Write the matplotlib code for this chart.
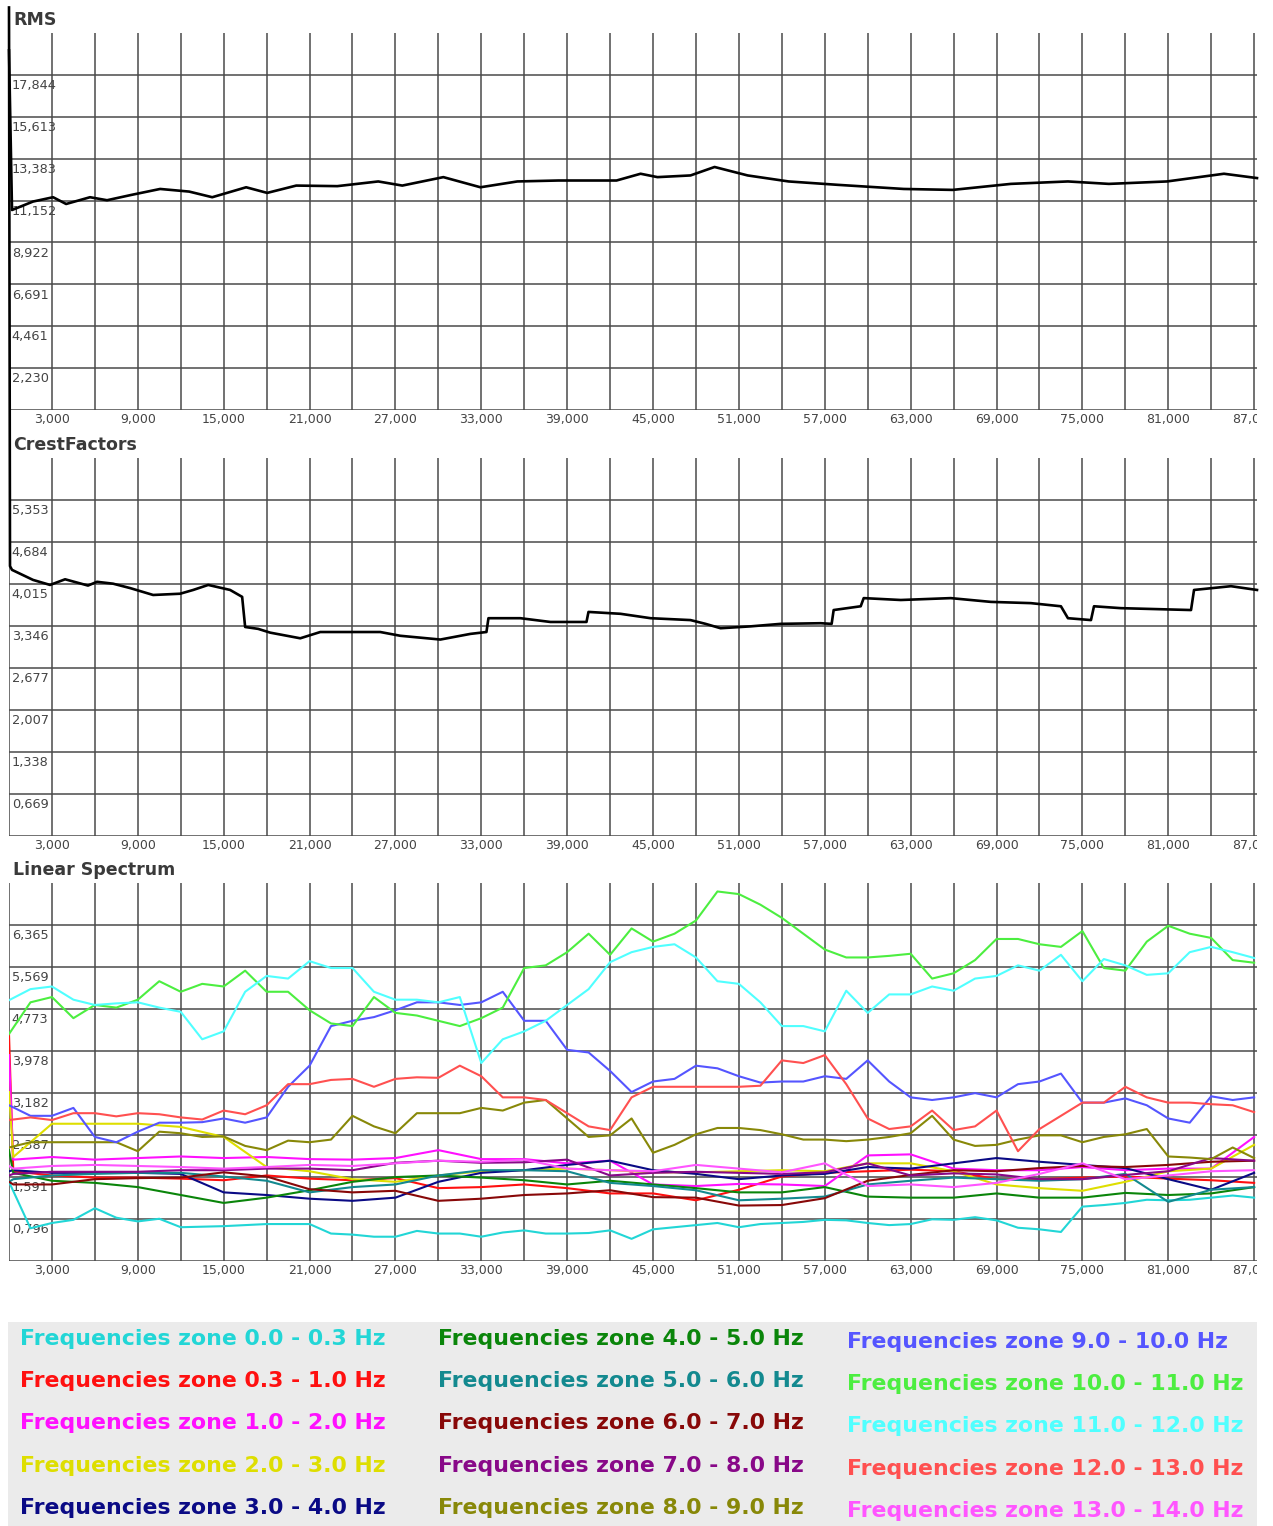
import numpy as np
import matplotlib
matplotlib.use("Agg")
import matplotlib.pyplot as plt
from matplotlib.patches import Rectangle
from matplotlib.transforms import ScaledTranslation

W, H = 1273, 1526

# ---------------- data ----------------
RMS_X = [0, 210, 1680, 3080, 3990, 5660, 6850, 8530, 10560, 12590, 14200, 16570,
         18040, 20070, 22940, 25800, 27480, 30350, 32940, 35520, 38390, 42450,
         44130, 45310, 47620, 49300, 51610, 54470, 57900, 62520, 65940, 70000,
         73990, 76850, 80910, 84890, 87200]
RMS_Y = [19150, 10650, 11100, 11330, 10970, 11330, 11170, 11450, 11770, 11630, 11330, 11860,
         11560, 11950, 11920, 12170, 11950, 12400, 11860, 12170, 12220, 12220,
         12580, 12400, 12490, 12940, 12490, 12170, 11990, 11770, 11720, 12040,
         12170, 12040, 12170, 12580, 12350]

CREST_X = [0, 70, 210, 1680, 2870, 3920, 5520, 6150, 7270, 8460, 10070, 11960, 12870,
           13920, 15450, 16290, 16500, 17410, 18250, 20350, 21750, 23500, 25940,
           27340, 30140, 32240, 33360, 33500, 35730, 37830, 40350, 40490, 42730,
           44830, 47620, 48670, 49720, 51820, 53920, 56710, 57480, 57620, 59510,
           59720, 62310, 65800, 68600, 71400, 73500, 73990, 75600, 75810, 77690,
           82590, 82800, 85380, 87200]
CREST_Y = [13.2, 4.3, 4.24, 4.08, 4.0, 4.09, 3.99, 4.05, 4.02, 3.95, 3.84, 3.86, 3.92,
           4.0, 3.92, 3.81, 3.33, 3.3, 3.24, 3.15, 3.25, 3.25, 3.25,
           3.19, 3.13, 3.22, 3.25, 3.47, 3.47, 3.41, 3.41, 3.57, 3.54,
           3.47, 3.44, 3.38, 3.31, 3.34, 3.38, 3.39, 3.38, 3.6, 3.66,
           3.79, 3.76, 3.79, 3.73, 3.71, 3.66, 3.47, 3.44, 3.66, 3.63,
           3.6, 3.92, 3.98, 3.92]

# spectrum: prominent series sampled every 1500, cluster series every 3000
X_FINE = list(range(0, 87001, 1500))
X_COARSE = [0, 300] + list(range(3000, 87001, 3000))

TURQ_0 = [1.5, 0.62, 0.72, 0.78, 1.0, 0.82, 0.75, 0.8, 0.64, 0.65,
          0.66, 0.68, 0.7, 0.7, 0.7, 0.52, 0.5, 0.46, 0.46, 0.57,
          0.52, 0.52, 0.46, 0.54, 0.58, 0.52, 0.52, 0.53, 0.58, 0.42,
          0.6, 0.64, 0.68, 0.72, 0.64, 0.7, 0.72, 0.74, 0.78, 0.77,
          0.72, 0.68, 0.7, 0.79, 0.78, 0.83, 0.77, 0.63, 0.6, 0.55,
          1.03, 1.06, 1.1, 1.16, 1.15, 1.16, 1.2, 1.24, 1.2]
RED_03 = [4.3, 1.7, 1.62, 1.58, 1.58, 1.56, 1.53, 1.62, 1.56, 1.53, 1.57, 1.38, 1.4,
          1.45, 1.38, 1.28, 1.28, 1.15, 1.35, 1.6, 1.67, 1.7, 1.73, 1.7, 1.55, 1.55,
          1.58, 1.6, 1.56, 1.53, 1.48]
MAGENTA_1 = [3.9, 1.92, 1.97, 1.92, 1.95, 1.98, 1.95, 1.97, 1.93, 1.92, 1.95, 2.1, 1.93,
             1.93, 1.85, 1.9, 1.45, 1.42, 1.46, 1.45, 1.42, 2.0, 2.02, 1.75, 1.72, 1.72,
             1.78, 1.72, 1.75, 1.75, 2.35]
YELLOW_2 = [3.2, 1.97, 2.6, 2.6, 2.6, 2.54, 2.35, 1.78, 1.7, 1.55, 1.5, 1.62, 1.7, 1.72,
            1.75, 1.72, 1.68, 1.68, 1.7, 1.72, 1.7, 1.85, 1.85, 1.7, 1.45, 1.38, 1.33,
            1.5, 1.7, 1.75, 2.2]
NAVY_3 = [1.7, 1.72, 1.67, 1.67, 1.67, 1.65, 1.3, 1.25, 1.18, 1.14, 1.2, 1.5, 1.67, 1.72,
          1.82, 1.9, 1.72, 1.65, 1.55, 1.62, 1.65, 1.78, 1.75, 1.85, 1.95, 1.88, 1.82,
          1.76, 1.55, 1.35, 1.67]
GREEN_4 = [2.1, 1.67, 1.52, 1.48, 1.4, 1.25, 1.1, 1.2, 1.34, 1.5, 1.59, 1.62, 1.58, 1.53,
           1.45, 1.52, 1.45, 1.38, 1.3, 1.3, 1.4, 1.22, 1.2, 1.2, 1.28, 1.2, 1.2, 1.29,
           1.25, 1.28, 1.4]
TEAL_5 = [1.5, 1.55, 1.62, 1.65, 1.67, 1.67, 1.6, 1.52, 1.3, 1.4, 1.45, 1.62, 1.72, 1.72,
          1.7, 1.48, 1.42, 1.34, 1.15, 1.18, 1.22, 1.45, 1.52, 1.58, 1.55, 1.52, 1.55,
          1.65, 1.12, 1.35, 1.4]
MAROON_6 = [1.5, 1.45, 1.45, 1.55, 1.57, 1.58, 1.68, 1.6, 1.36, 1.3, 1.33, 1.14, 1.18,
            1.25, 1.28, 1.34, 1.21, 1.2, 1.05, 1.06, 1.19, 1.52, 1.63, 1.72, 1.7, 1.76,
            1.8, 1.78, 1.82, 1.88, 1.9]
PURPLE_7 = [1.62, 1.65, 1.69, 1.69, 1.69, 1.72, 1.72, 1.75, 1.75, 1.72, 1.86, 1.9, 1.86,
            1.87, 1.92, 1.62, 1.67, 1.69, 1.67, 1.65, 1.68, 1.85, 1.62, 1.66, 1.64, 1.55,
            1.55, 1.63, 1.7, 1.95, 1.9]
OLIVE_8 = [2.15, 2.25, 2.25, 2.25, 2.25, 2.25, 2.08, 2.45, 2.42, 2.35,
           2.36, 2.18, 2.1, 2.28, 2.25, 2.3, 2.75, 2.55, 2.42, 2.8,
           2.8, 2.8, 2.9, 2.85, 3.0, 3.05, 2.7, 2.35, 2.38, 2.7,
           2.05, 2.2, 2.4, 2.52, 2.52, 2.48, 2.4, 2.3, 2.3, 2.27,
           2.3, 2.35, 2.42, 2.75, 2.3, 2.18, 2.2, 2.3, 2.38, 2.38,
           2.25, 2.35, 2.4, 2.5, 1.98, 1.96, 1.93, 2.15, 1.95]
BLUE_9 = [2.95, 2.75, 2.75, 2.9, 2.35, 2.25, 2.45, 2.62, 2.62, 2.63,
          2.7, 2.62, 2.72, 3.3, 3.7, 4.45, 4.55, 4.62, 4.75, 4.9,
          4.9, 4.85, 4.9, 5.1, 4.55, 4.55, 4.0, 3.95, 3.6, 3.2,
          3.4, 3.45, 3.7, 3.65, 3.5, 3.38, 3.4, 3.4, 3.5, 3.45,
          3.8, 3.4, 3.1, 3.05, 3.1, 3.18, 3.1, 3.35, 3.4, 3.55,
          3.0, 3.0, 3.08, 2.95, 2.7, 2.62, 3.12, 3.05, 3.1]
GREEN_10 = [4.3, 4.9, 5.0, 4.6, 4.85, 4.8, 4.95, 5.3, 5.1, 5.25,
            5.2, 5.5, 5.1, 5.1, 4.75, 4.5, 4.45, 5.0, 4.7, 4.65,
            4.55, 4.45, 4.6, 4.8, 5.55, 5.6, 5.85, 6.2, 5.8, 6.3,
            6.05, 6.2, 6.45, 7.0, 6.95, 6.75, 6.5, 6.2, 5.9, 5.75,
            5.75, 5.78, 5.82, 5.35, 5.45, 5.7, 6.1, 6.1, 6.0, 5.95,
            6.25, 5.55, 5.5, 6.05, 6.35, 6.2, 6.12, 5.7, 5.65]
CYAN_11 = [4.94, 5.15, 5.2, 4.95, 4.85, 4.88, 4.9, 4.8, 4.72, 4.2,
           4.35, 5.1, 5.4, 5.35, 5.68, 5.55, 5.55, 5.1, 4.95, 4.95,
           4.9, 5.0, 3.75, 4.2, 4.35, 4.55, 4.85, 5.15, 5.66, 5.85,
           5.95, 6.0, 5.75, 5.3, 5.25, 4.9, 4.45, 4.45, 4.35, 5.12,
           4.7, 5.05, 5.05, 5.2, 5.12, 5.35, 5.4, 5.6, 5.5, 5.8,
           5.3, 5.72, 5.6, 5.42, 5.45, 5.85, 5.95, 5.85, 5.74]
SALMON_12 = [2.67, 2.72, 2.67, 2.8, 2.8, 2.74, 2.8, 2.78, 2.72, 2.68,
             2.85, 2.78, 2.95, 3.35, 3.35, 3.43, 3.45, 3.3, 3.45, 3.48,
             3.47, 3.7, 3.5, 3.1, 3.1, 3.05, 2.8, 2.55, 2.48, 3.1,
             3.3, 3.3, 3.3, 3.3, 3.3, 3.32, 3.8, 3.75, 3.9, 3.35,
             2.7, 2.5, 2.55, 2.85, 2.48, 2.55, 2.85, 2.08, 2.5, 2.75,
             3.0, 3.0, 3.3, 3.1, 3.0, 3.0, 2.97, 2.95, 2.82]
PINK_13 = [1.8, 1.75, 1.8, 1.82, 1.8, 1.78, 1.75, 1.78, 1.82, 1.8, 1.85, 1.9, 1.88, 1.92,
           1.75, 1.72, 1.7, 1.82, 1.75, 1.68, 1.85, 1.42, 1.45, 1.4, 1.48, 1.65, 1.85,
           1.55, 1.62, 1.7, 1.72]

ZONES = ["0.0 - 0.3", "0.3 - 1.0", "1.0 - 2.0", "2.0 - 3.0", "3.0 - 4.0",
         "4.0 - 5.0", "5.0 - 6.0", "6.0 - 7.0", "7.0 - 8.0", "8.0 - 9.0",
         "9.0 - 10.0", "10.0 - 11.0", "11.0 - 12.0", "12.0 - 13.0", "13.0 - 14.0"]
COLORS = ["#22d6d6", "#ff1010", "#ff10ff", "#dede00", "#0a0a85",
          "#0a850a", "#13898f", "#880808", "#880888", "#888808",
          "#5555ff", "#4cee40", "#50ffff", "#ff5050", "#ff55ff"]
SERIES = [(X_FINE, TURQ_0), (X_COARSE, RED_03), (X_COARSE, MAGENTA_1),
          (X_COARSE, YELLOW_2), (X_COARSE, NAVY_3), (X_COARSE, GREEN_4),
          (X_COARSE, TEAL_5), (X_COARSE, MAROON_6), (X_COARSE, PURPLE_7),
          (X_FINE, OLIVE_8), (X_FINE, BLUE_9), (X_FINE, GREEN_10),
          (X_FINE, CYAN_11), (X_FINE, SALMON_12), (X_COARSE, PINK_13)]

RMS_LABELS = ["2,230", "4,461", "6,691", "8,922", "11,152", "13,383", "15,613", "17,844"]
CREST_LABELS = ["0,669", "1,338", "2,007", "2,677", "3,346", "4,015", "4,684", "5,353"]
SPEC_LABELS = ["0,796", "1,591", "2,387", "3,182", "3,978", "4,773", "5,569", "6,365"]

GRID = "#4a4a4a"
TXT = "#444444"

fig = plt.figure(figsize=(W / 100, H / 100), dpi=100)
# the chart canvas ends at x=1257px, so the last x label is cut like in the app
clip_rect = Rectangle((0, 0), 1257 / W, 1, transform=fig.transFigure)


def make_axes(top_px, bottom_px, step, labels, title):
    ax = fig.add_axes([9 / W, 1 - bottom_px / H, 1248 / W, (bottom_px - top_px) / H])
    ax.set_xlim(0, 87200)
    ax.set_ylim(0, 9 * step)
    for s in ax.spines.values():
        s.set_visible(False)
    xt = list(range(0, 87001, 3000))
    ax.set_xticks(xt)
    ax.set_xticklabels([f"{v:,}" if (v - 3000) % 6000 == 0 else "" for v in xt])
    ax.set_yticks([k * step for k in range(9)])
    ax.set_yticklabels([])
    ax.tick_params(length=0, labelsize=9, colors=TXT, pad=2)
    ax.grid(True, color=GRID, lw=1.1)
    ax.set_axisbelow(True)
    for tk in ax.xaxis.get_major_ticks():
        tk.label1.set_clip_path(clip_rect)
    off = ScaledTranslation(2 / 72, -3 / 72, fig.dpi_scale_trans)
    for k, lab in enumerate(labels, start=1):
        ax.text(0, k * step, lab, transform=ax.get_yaxis_transform() + off,
                ha="left", va="top", fontsize=9.3, color=TXT, zorder=1)
    fig.text(13 / W, 1 - (top_px - 13) / H, title, fontsize=12.5, fontweight="bold",
             color="#3a3a3a", ha="left", va="center")
    return ax


ax1 = make_axes(33, 410, 2230.5, RMS_LABELS, "RMS")
ax1.plot(RMS_X, RMS_Y, color="black", lw=1.9, clip_on=False, zorder=3)

ax2 = make_axes(458, 836, 0.66915, CREST_LABELS, "CrestFactors")
ax2.plot(CREST_X, CREST_Y, color="black", lw=1.9, clip_on=False, zorder=3)

ax3 = make_axes(883, 1261, 0.7956, SPEC_LABELS, "Linear Spectrum")
for (xs, ys), c in zip(SERIES, COLORS):
    ax3.plot(xs, ys, color=c, lw=1.5, zorder=3)

# legend panel
fig.add_artist(Rectangle((8 / W, 0), 1249 / W, (H - 1322) / H,
                         transform=fig.transFigure, facecolor="#ebebeb",
                         edgecolor="none", zorder=0))
col_x = [20, 438, 847]
row_y = [1339, 1381, 1423, 1466, 1508]
for i, (zone, c) in enumerate(zip(ZONES, COLORS)):
    col, row = divmod(i, 5)
    y = row_y[row] + (3 if col == 2 else 0)
    fig.text(col_x[col] / W, 1 - y / H, f"Frequencies zone {zone} Hz",
             family="DejaVu Sans", fontweight="bold", fontsize=15.8,
             color=c, ha="left", va="center")

fig.savefig("out.png", dpi=100)
